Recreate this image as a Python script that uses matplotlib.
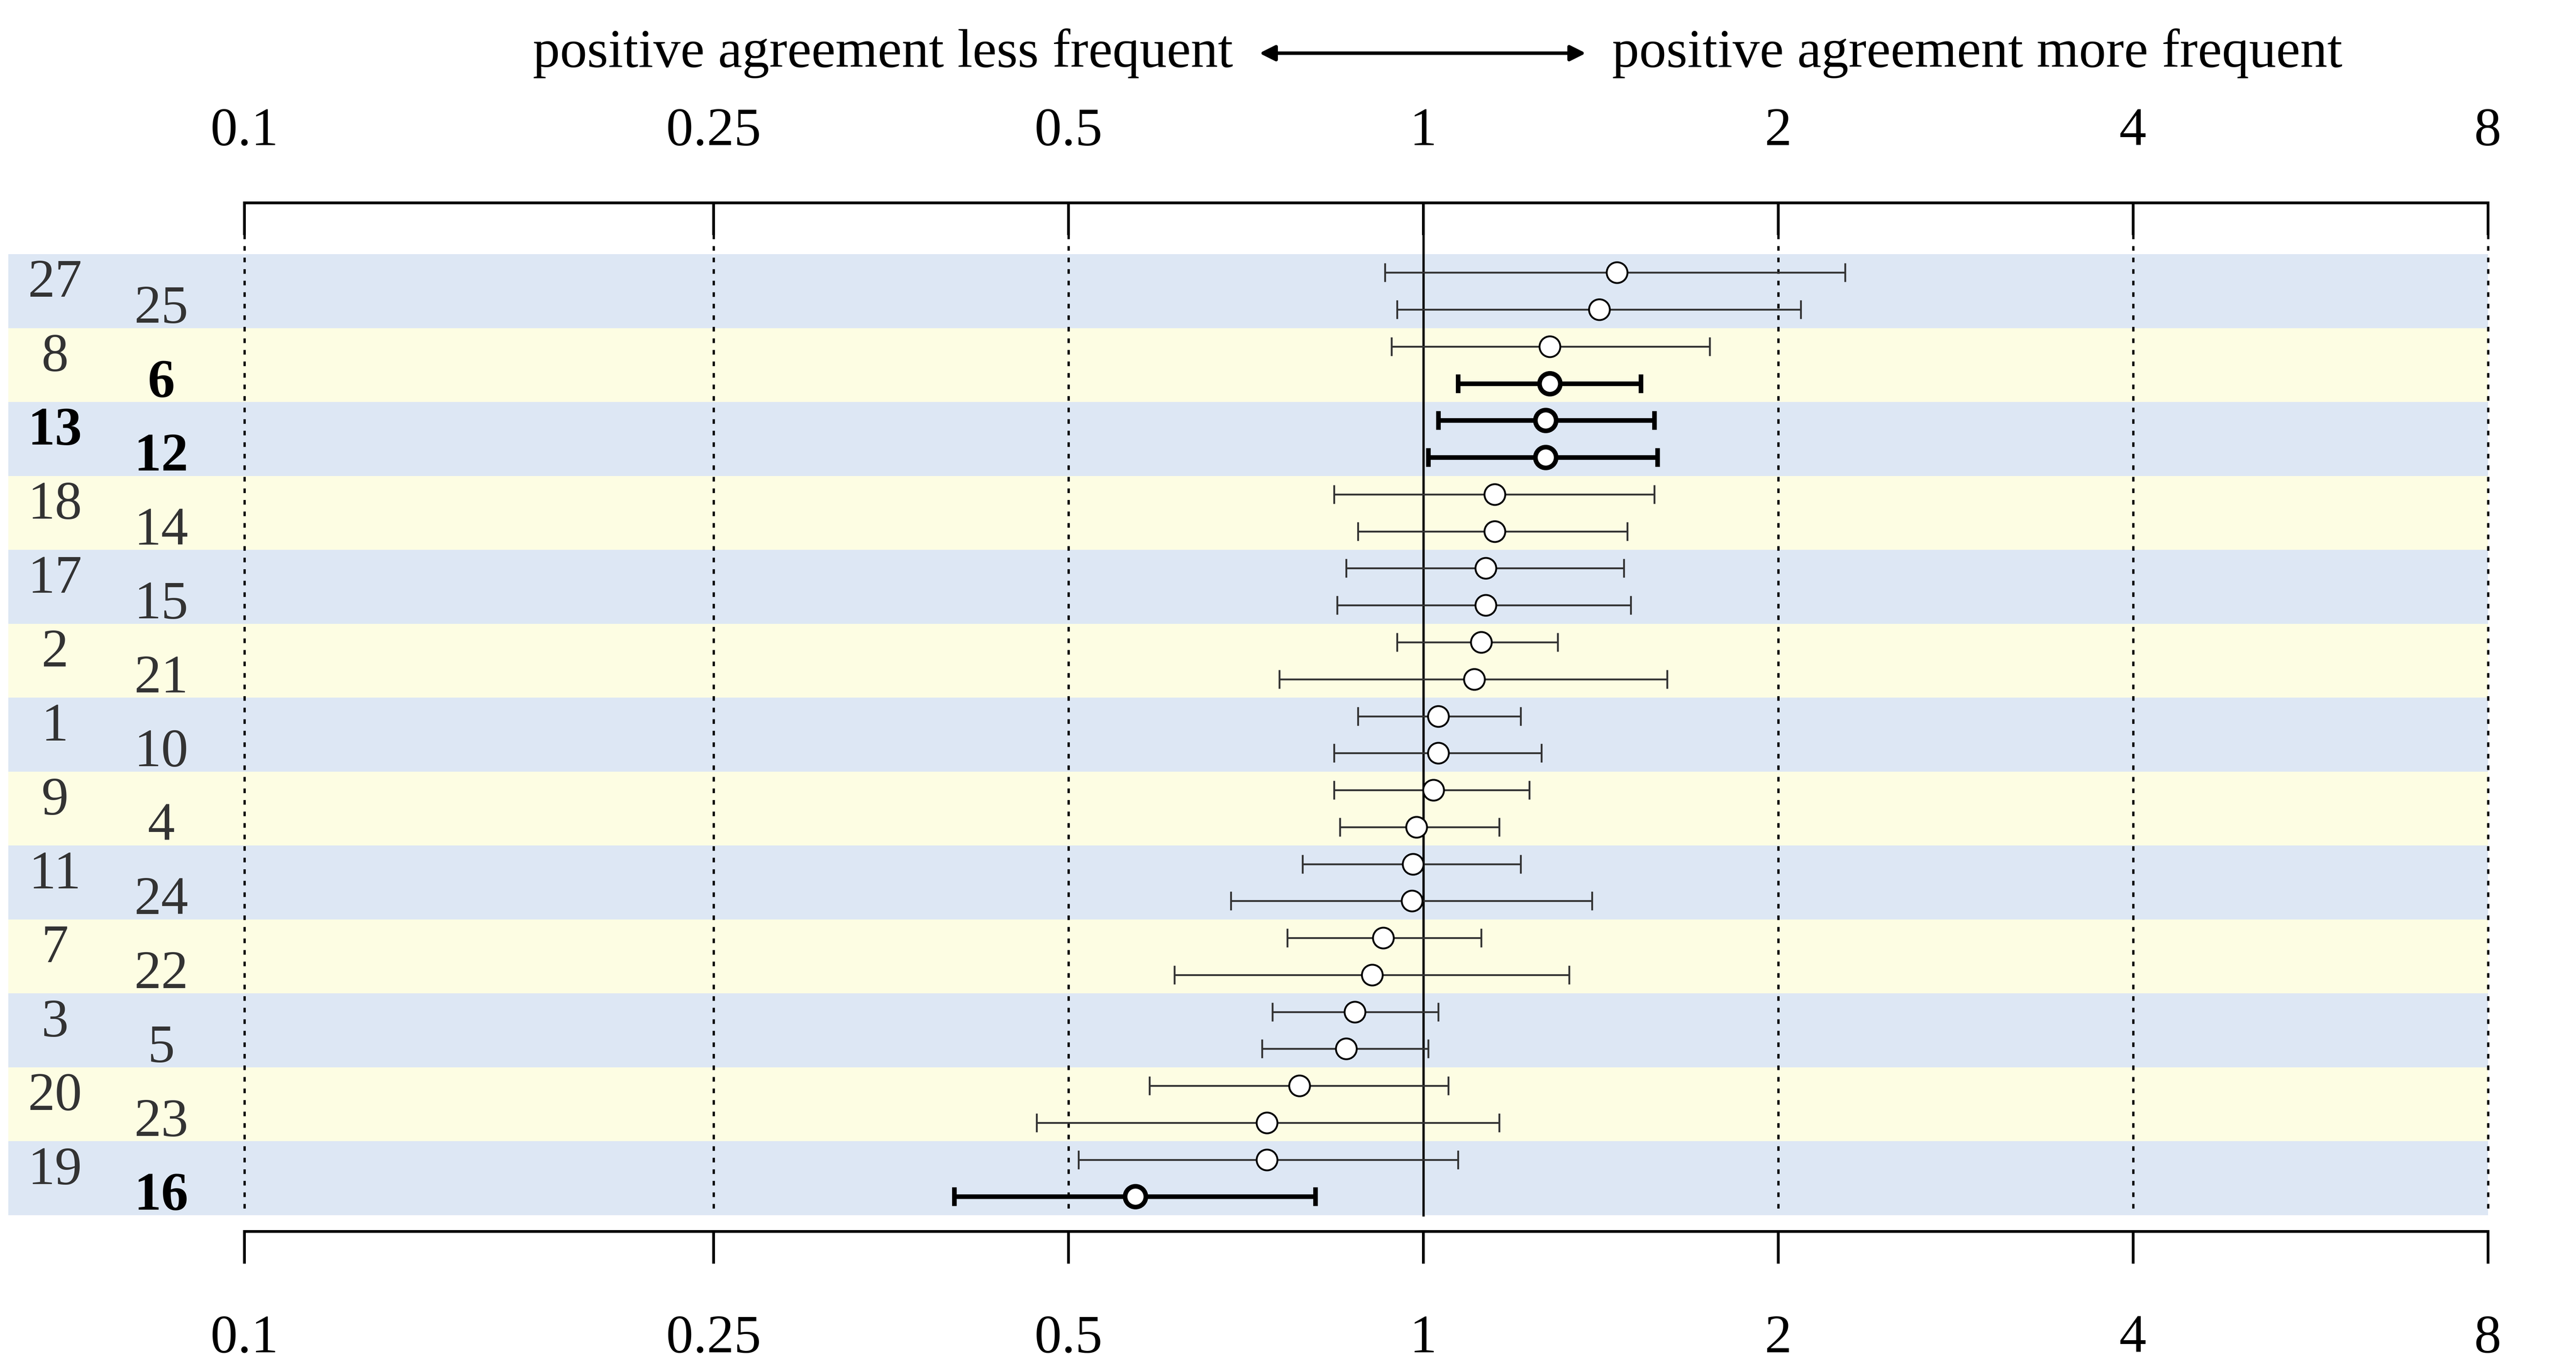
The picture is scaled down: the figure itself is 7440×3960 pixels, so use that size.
import matplotlib
matplotlib.use("Agg")
import matplotlib.pyplot as plt
from matplotlib.ticker import FixedLocator, NullLocator

plt.rcParams["font.family"] = ["Liberation Serif", "DejaVu Serif"]

# left column (upper row of each band) and right column (lower row)
labels_a = ["27", "8", "13", "18", "17", "2", "1", "9", "11", "7", "3", "20", "19"]
labels_b = ["25", "6", "12", "14", "15", "21", "10", "4", "24", "22", "5", "23", "16"]
bold_labels = {"13", "6", "12", "16"}

# one entry per row, top to bottom
est = [1.46, 1.41, 1.28, 1.28, 1.27, 1.27, 1.15, 1.15, 1.13, 1.13, 1.12, 1.105, 1.03,
       1.03, 1.02, 0.987, 0.98, 0.978, 0.925, 0.905, 0.875, 0.86, 0.785, 0.737, 0.737, 0.57]
lo = [0.928, 0.95, 0.94, 1.07, 1.03, 1.01, 0.84, 0.88, 0.86, 0.845, 0.95, 0.755, 0.88,
      0.84, 0.84, 0.85, 0.79, 0.687, 0.767, 0.615, 0.745, 0.73, 0.586, 0.47, 0.51, 0.40]
hi = [2.28, 2.09, 1.75, 1.53, 1.57, 1.58, 1.57, 1.49, 1.48, 1.50, 1.30, 1.61, 1.21,
      1.26, 1.23, 1.16, 1.21, 1.39, 1.12, 1.33, 1.03, 1.01, 1.05, 1.16, 1.07, 0.81]
row_bold = [False, False, False, True, True, True] + [False] * 19 + [True]

ticks = [0.1, 0.25, 0.5, 1, 2, 4, 8]
tick_labels = ["0.1", "0.25", "0.5", "1", "2", "4", "8"]

FS = 23.5

fig = plt.figure(figsize=(15.5, 8.25), dpi=480)
ax = fig.add_axes([147 / 1550, 1 - 741 / 825, 1350 / 1550, 619 / 825])
ax.set_xscale("log")
ax.set_xlim(0.1, 8)
ax.set_ylim(25.94, -1.89)

band_left = (5 - 147) / 1350
for b in range(13):
    color = "#dde7f4" if b % 2 == 0 else "#fdfde3"
    ax.axhspan(2 * b - 0.5, 2 * b + 1.5, xmin=band_left, xmax=1, color=color,
               lw=0, clip_on=False, zorder=0)
    ax.text(-0.0844, 2 * b + 0.3, labels_a[b], transform=ax.get_yaxis_transform(),
            ha="center", va="center", fontsize=FS,
            fontweight="bold" if labels_a[b] in bold_labels else "normal",
            color="black" if labels_a[b] in bold_labels else "#333333")
    ax.text(-0.037, 2 * b + 1.0, labels_b[b], transform=ax.get_yaxis_transform(),
            ha="center", va="center", fontsize=FS,
            fontweight="bold" if labels_b[b] in bold_labels else "normal",
            color="black" if labels_b[b] in bold_labels else "#333333")

for t in ticks:
    if t == 1:
        ax.plot([t, t], [-1.03, 25.5], color="black", lw=1.0, zorder=1, clip_on=False)
    else:
        ax.plot([t, t], [-1.03, 25.5], ls=(0, (2, 3)), color="black", lw=1.0,
                zorder=1, clip_on=False)

for i in range(len(est)):
    lw = 2.0 if row_bold[i] else 0.8
    col = "black" if row_bold[i] else "#333333"
    ax.errorbar(est[i], i, xerr=[[est[i] - lo[i]], [hi[i] - est[i]]], fmt="none",
                ecolor=col, elinewidth=lw, capsize=4, capthick=lw, zorder=2)
    ax.plot(est[i], i, "o", ms=9, mfc="white", mec="black",
            mew=2.0 if row_bold[i] else 0.8, zorder=3)

for s in ("left", "right"):
    ax.spines[s].set_visible(False)
ax.spines["bottom"].set_linewidth(1.2)
ax.yaxis.set_major_locator(NullLocator())
ax.xaxis.set_major_locator(FixedLocator(ticks))
ax.xaxis.set_minor_locator(NullLocator())
ax.set_xticklabels(tick_labels)
ax.tick_params(axis="x", direction="out", length=14, width=1.2, labelsize=FS, pad=22)

ax2 = ax.twiny()
ax2.set_xscale("log")
ax2.set_xlim(0.1, 8)
ax2.xaxis.set_major_locator(FixedLocator(ticks))
ax2.xaxis.set_minor_locator(NullLocator())
ax2.set_xticklabels(tick_labels)
ax2.tick_params(axis="x", direction="in", length=14, width=1.2, labelsize=FS, pad=20)
for s in ("left", "right", "bottom"):
    ax2.spines[s].set_visible(False)
ax2.spines["top"].set_linewidth(1.2)

fy = 1 - 32 / 825
fig.text(742 / 1550, fy, "positive agreement less frequent", ha="right", va="center",
         fontsize=FS)
fig.text(970 / 1550, fy, "positive agreement more frequent", ha="left", va="center",
         fontsize=FS)
fig.patches.append(matplotlib.patches.FancyArrowPatch(
    (755 / 1550, fy), (957 / 1550, fy), transform=fig.transFigure,
    arrowstyle="<|-|>", mutation_scale=14, lw=1.5, color="black"))

fig.savefig("out.png", dpi=480)
